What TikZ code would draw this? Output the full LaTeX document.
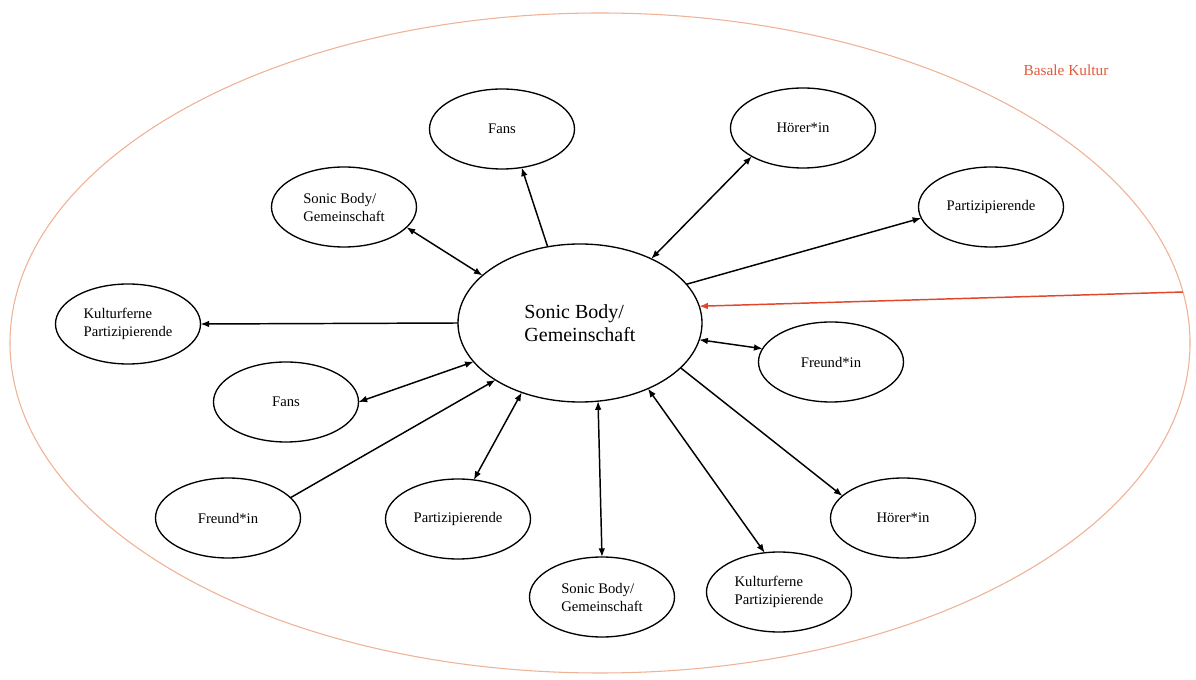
\documentclass[tikz,border=0pt]{standalone}
\usepackage{fontspec}
\setmainfont{Liberation Serif}
\usetikzlibrary{shapes.geometric,arrows.meta}
\definecolor{kulturline}{RGB}{240,178,150}
\definecolor{kulturtext}{RGB}{226,90,60}
\definecolor{redarrow}{RGB}{226,70,45}
\begin{document}
\begin{tikzpicture}[x=0.75pt,y=-0.75pt,
  every node/.style={inner sep=0pt, outer sep=0pt},
  role/.style={ellipse, draw=black, line width=1pt, minimum width=108.75pt,
    minimum height=60pt, align=left, font=\fontsize{11}{13.5}\selectfont},
  hub/.style={ellipse, draw=black, line width=1pt, minimum width=183pt,
    minimum height=118.5pt, align=left, font=\fontsize{15}{17.5}\selectfont},
  link/.style={line width=1.1pt, -{Latex[length=6.5pt,width=5pt]}},
  both/.style={line width=1.1pt, {Latex[length=6.5pt,width=5pt]}-{Latex[length=6.5pt,width=5pt]}},
]
\useasboundingbox (0,0) rectangle (1196,680);
\fill[white] (0,0) rectangle (1196,680);

% outer culture ellipse and its label
\node[ellipse, draw=kulturline, line width=0.8pt, minimum width=885pt,
  minimum height=495pt] (kultur) at (600,343) {};
\node[text=kulturtext, font=\fontsize{11.5}{13}\selectfont] (label) at (1066,70) {Basale Kultur};

% central community
\node[hub] (hub) at (580,323) {Sonic Body/\\Gemeinschaft};

% surrounding roles
\node[role] (fansT)   at (502,129) {Fans};
\node[role] (hoererT) at (803,128) {Hörer*in};
\node[role] (partR)   at (991,207) {Partizipierende};
\node[role] (sonicL)  at (344,207) {Sonic Body/\\Gemeinschaft};
\node[role] (kultL)   at (128,324) {Kulturferne\\Partizipierende};
\node[role] (fansL)   at (286,402) {Fans};
\node[role] (freundR) at (831,362) {Freund*in};
\node[role] (freundL) at (228,518) {Freund*in};
\node[role] (partB)   at (458,519) {Partizipierende};
\node[role] (sonicB)  at (602,597) {Sonic Body/\\Gemeinschaft};
\node[role] (kultB)   at (779,592) {Kulturferne\\Partizipierende};
\node[role] (hoererB) at (903,518) {Hörer*in};

% relations
\draw[link] (hub.113) -- (fansT.-63);
\draw[both] (hub.42) -- (hoererT.209.5);
\draw[link] (hub.20) -- (partR.189);
\draw[both] (hub.-8) -- (freundR.169);
\draw[link] (hub.-24.5) -- (hoererB.160);
\draw[both] (hub.-44) -- (kultB.110);
\draw[both] (hub.-77) -- (sonicB.90);
\draw[both] (hub.230) -- (partB.68);
\draw[link] (freundL.18) -- (hub.214);
\draw[both] (hub.200) -- (fansL.0);
\draw[link] (hub.180) -- (kultL.0);
\draw[both] (hub.154) -- (sonicL.-18);

% influence of the surrounding culture
\draw[redarrow, line width=1.1pt, -{Latex[length=6.5pt,width=5pt]}] (kultur.5.8) -- (hub.8);
\end{tikzpicture}
\end{document}
